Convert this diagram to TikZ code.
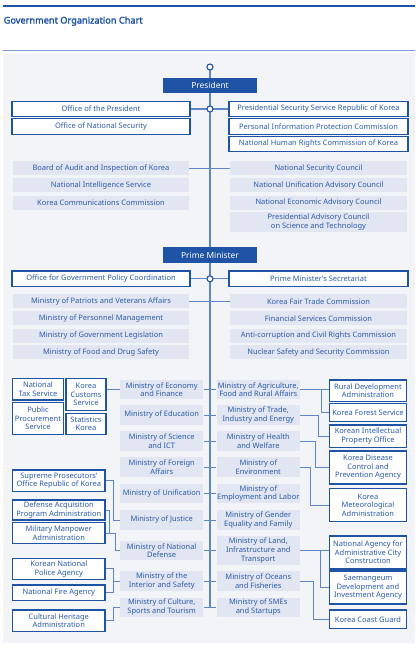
\documentclass[tikz,border=0pt]{standalone}
\usepackage{fontspec}
\setmainfont{Noto Sans}[AutoFakeBold=2.2]
\definecolor{dblue}{HTML}{1F53A5}
\definecolor{tblue}{HTML}{2A5BAA}
\definecolor{lfill}{HTML}{E2E6F3}
\definecolor{lcol}{HTML}{5F86C6}
\definecolor{bgc}{HTML}{F3F4F8}
\definecolor{hline}{HTML}{7C9CD2}
\begin{document}
\begin{tikzpicture}[x=1pt,y=-1pt,
  every node/.style={inner sep=0pt, align=center, font=\fontsize{7.5}{8.6}\selectfont, text=tblue},
  wbox/.style={draw=dblue, line width=1.2pt, fill=white},
  lbox/.style={fill=lfill},
  dbox/.style={fill=dblue, text=white, font=\fontsize{8.4}{9}\selectfont, minimum width=94pt, minimum height=15.5pt},
  conn/.style={draw=lcol, line width=0.9pt},
  spine/.style={draw=lcol, line width=1.3pt},
  dotc/.style={circle, draw=dblue, line width=1.1pt, fill=white, minimum size=6pt},
  topl/.style={wbox, minimum width=178pt, minimum height=15.5pt},
  topr/.style={wbox, minimum width=179pt, minimum height=15.5pt},
  ll/.style={lbox, minimum width=176pt, minimum height=14pt},
  lr/.style={lbox, minimum width=177pt, minimum height=14pt},
  mini/.style={lbox, minimum width=83.3pt, minimum height=19.3pt},
  ob/.style={wbox, minimum width=92.3pt},
  orb/.style={wbox, minimum width=77.4pt},
]
\useasboundingbox (0,0) rectangle (420,649);
\fill[bgc] (3,53) rectangle (415,643);
\draw[dblue, line width=2.3pt] (3,6) -- (415,6);
\draw[hline, line width=1pt] (3,50.7) -- (415,50.7);
\node[anchor=base west, font=\bfseries\fontsize{9.2}{11}\selectfont, text=dblue] (title) at (3.5,23.5) {Government Organization Chart};

% spine
\coordinate (stop) at (210,67);
\coordinate (send) at (210,607.3);
\draw[spine] (stop) -- (send);

% President level
\node[dbox] (pres) at (210,85.5) {President};
\node[topl] (op) at (101,109) {Office of the President};
\node[topl] (ons) at (101,126.5) {Office of National Security};
\node[topr] (pss) at (318.5,109) {Presidential Security Service Republic of Korea};
\node[topr] (pipc) at (318.5,126.5) {Personal Information Protection Commission};
\node[topr] (nhrc) at (318.5,144) {National Human Rights Commission of Korea};

\node[ll] (bai) at (101,168.2) {Board of Audit and Inspection of Korea};
\node[ll] (nis) at (101,185.2) {National Intelligence Service};
\node[ll] (kcc) at (101,202.5) {Korea Communications Commission};
\node[lr] (nsc) at (318.5,168.2) {National Security Council};
\node[lr] (nuac) at (318.5,185.2) {National Unification Advisory Council};
\node[lr] (neac) at (318.5,202.5) {National Economic Advisory Council};
\node[lr, minimum height=19.7pt] (pacst) at (318.5,221.8) {Presidential Advisory Council\\on Science and Technology};

% Prime Minister level
\node[dbox, minimum height=16pt] (pm) at (210,255.3) {Prime Minister};
\node[topl, minimum height=15.7pt] (ogpc) at (101,278.8) {Office for Government Policy Coordination};
\node[topr, minimum height=15.7pt] (pms) at (318.5,278.8) {Prime Minister’s Secretariat};

\node[ll] (mpva) at (101,301.3) {Ministry of Patriots and Veterans Affairs};
\node[ll] (mpm) at (101,318.3) {Ministry of Personnel Management};
\node[ll] (mogl) at (101,335.7) {Ministry of Government Legislation};
\node[ll] (mfds) at (101,352.3) {Ministry of Food and Drug Safety};
\node[lr] (kftc) at (318.5,301.3) {Korea Fair Trade Commission};
\node[lr] (fsc) at (318.5,318.3) {Financial Services Commission};
\node[lr] (acrc) at (318.5,335.7) {Anti-corruption and Civil Rights Commission};
\node[lr] (nssc) at (318.5,352.3) {Nuclear Safety and Security Commission};

% Ministries
\node[mini] (moef) at (161.7,389.5) {Ministry of Economy\\and Finance};
\node[mini] (moe) at (161.7,415) {Ministry of Education};
\node[mini] (msit) at (161.7,441) {Ministry of Science\\and ICT};
\node[mini] (mofa) at (161.7,467) {Ministry of Foreign\\Affairs};
\node[mini] (mou) at (161.7,493.5) {Ministry of Unification};
\node[mini] (moj) at (161.7,520) {Ministry of Justice};
\node[mini] (mnd) at (161.7,550.5) {Ministry of National\\Defense};
\node[mini] (mois) at (161.7,581) {Ministry of the\\Interior and Safety};
\node[mini] (mcst) at (161.7,607.3) {Ministry of Culture,\\Sports and Tourism};

\node[mini] (mafra) at (258.3,389.5) {Ministry of Agriculture,\\Food and Rural Affairs};
\node[mini] (motie) at (258.3,415) {Ministry of Trade,\\Industry and Energy};
\node[mini] (mohw) at (258.3,441) {Ministry of Health\\and Welfare};
\node[mini] (moenv) at (258.3,467) {Ministry of\\Environment};
\node[mini] (moel) at (258.3,493.5) {Ministry of\\Employment and Labor};
\node[mini] (mogef) at (258.3,520) {Ministry of Gender\\Equality and Family};
\node[mini, minimum height=29pt] (molit) at (258.3,550.5) {Ministry of Land,\\Infrastructure and\\Transport};
\node[mini] (mof) at (258.3,581) {Ministry of Oceans\\and Fisheries};
\node[mini] (mss) at (258.3,607.3) {Ministry of SMEs\\and Startups};

% Left outer agencies
\node[wbox, minimum width=50.6pt, minimum height=21.7pt] (nts) at (38,389.2) {National\\Tax Service};
\node[wbox, minimum width=50.6pt, minimum height=32pt] (pps) at (38,418.3) {Public\\Procurement\\Service};
\node[wbox, minimum width=40pt, minimum height=32.4pt] (kcs) at (86,394.5) {Korea\\Customs\\Service};
\node[wbox, minimum width=40pt, minimum height=21pt] (stat) at (86,423.8) {Statistics\\Korea};
\node[ob, minimum height=21.7pt] (spo) at (58.8,480.8) {Supreme Prosecutors’\\Office Republic of Korea};
\node[ob, minimum height=20pt] (dapa) at (58.8,510) {Defense Acquisition\\Program Administration};
\node[ob, minimum height=20.6pt] (mma) at (58.8,533) {Military Manpower\\Administration};
\node[ob, minimum height=21pt] (knpa) at (58.8,568.8) {Korean National\\Police Agency};
\node[ob, minimum height=15.7pt] (nfa) at (58.8,592.8) {National Fire Agency};
\node[ob, minimum height=21.7pt] (cha) at (58.8,620.8) {Cultural Heritage\\Administration};

% Right outer agencies
\node[orb, minimum height=21.7pt] (rda) at (368,390.8) {Rural Development\\Administration};
\node[orb, minimum height=18.4pt] (kfs) at (368,412.5) {Korea Forest Service};
\node[orb, minimum height=22.3pt] (kipo) at (368,436.2) {Korean Intellectual\\Property Office};
\node[orb, minimum height=33pt] (kdca) at (368,467.5) {Korea Disease\\Control and\\Prevention Agency};
\node[orb, minimum height=33.4pt] (kma) at (368,505) {Korea\\Meteorological\\Administration};
\node[orb, minimum height=33pt] (naacc) at (368,552.5) {National Agency for\\Administrative City\\Construction};
\node[orb, minimum height=33pt] (sdia) at (368,587.5) {Saemangeum\\Development and\\Investment Agency};
\node[orb, minimum height=18.3pt] (kcg) at (368,619.2) {Korea Coast Guard};

% horizontal links across spine
\draw[spine] (op.east) -- (pss.west);
\draw[conn] (bai.east) -- (nsc.west);
\draw[spine] (ogpc.east) -- (pms.west);
\draw[conn] (mpva.east) -- (kftc.west);

% ministry ticks
\foreach \a/\b in {moef/mafra, moe/motie, msit/mohw, mofa/moenv, mou/moel, moj/mogef, mnd/molit, mois/mof, mcst/mss}
  \draw[conn] (\a.east) -- (\b.west);

% left agency links
\draw[conn] (kcs.east |- moef.west) -- (moef.west);
\draw[conn] (spo.east) -- ++(7.7,0) |- (moj.west);
\draw[conn] (dapa.east) -- ++(4,0) |- (mma.east);
\draw[conn] (mma.east) -- ++(10,0) |- (mnd.west);
\draw[conn] (knpa.east) -- ++(8.3,0) |- (nfa.east);
\draw[conn] (mois.west) -- ++(-6.7,0);
\draw[conn] (cha.east) -- ++(8.3,0) |- (mcst.west);

% right agency links
\draw[conn] (mafra.east) -- (mafra.east -| rda.west);
\draw[conn] (mafra.east) ++(21.7,0) |- (kfs.west);
\draw[conn] (motie.east) -- ++(18.3,0) |- (kipo.west);
\draw[conn] (mohw.east) -- ++(15,0) |- (kdca.west);
\draw[conn] (moenv.east) -- ++(10,0) |- (kma.west);
\draw[conn] (molit.east) -- (molit.east -| naacc.west);
\draw[conn] (molit.east) ++(20,0) |- (sdia.west);
\draw[conn] (mof.east) -- ++(13.3,0) |- (kcg.west);

% circles
\node[dotc] (c1) at (stop) {};
\node[dotc] (c2) at (210,109) {};
\node[dotc] (c3) at (210,278.8) {};
\end{tikzpicture}
\end{document}
